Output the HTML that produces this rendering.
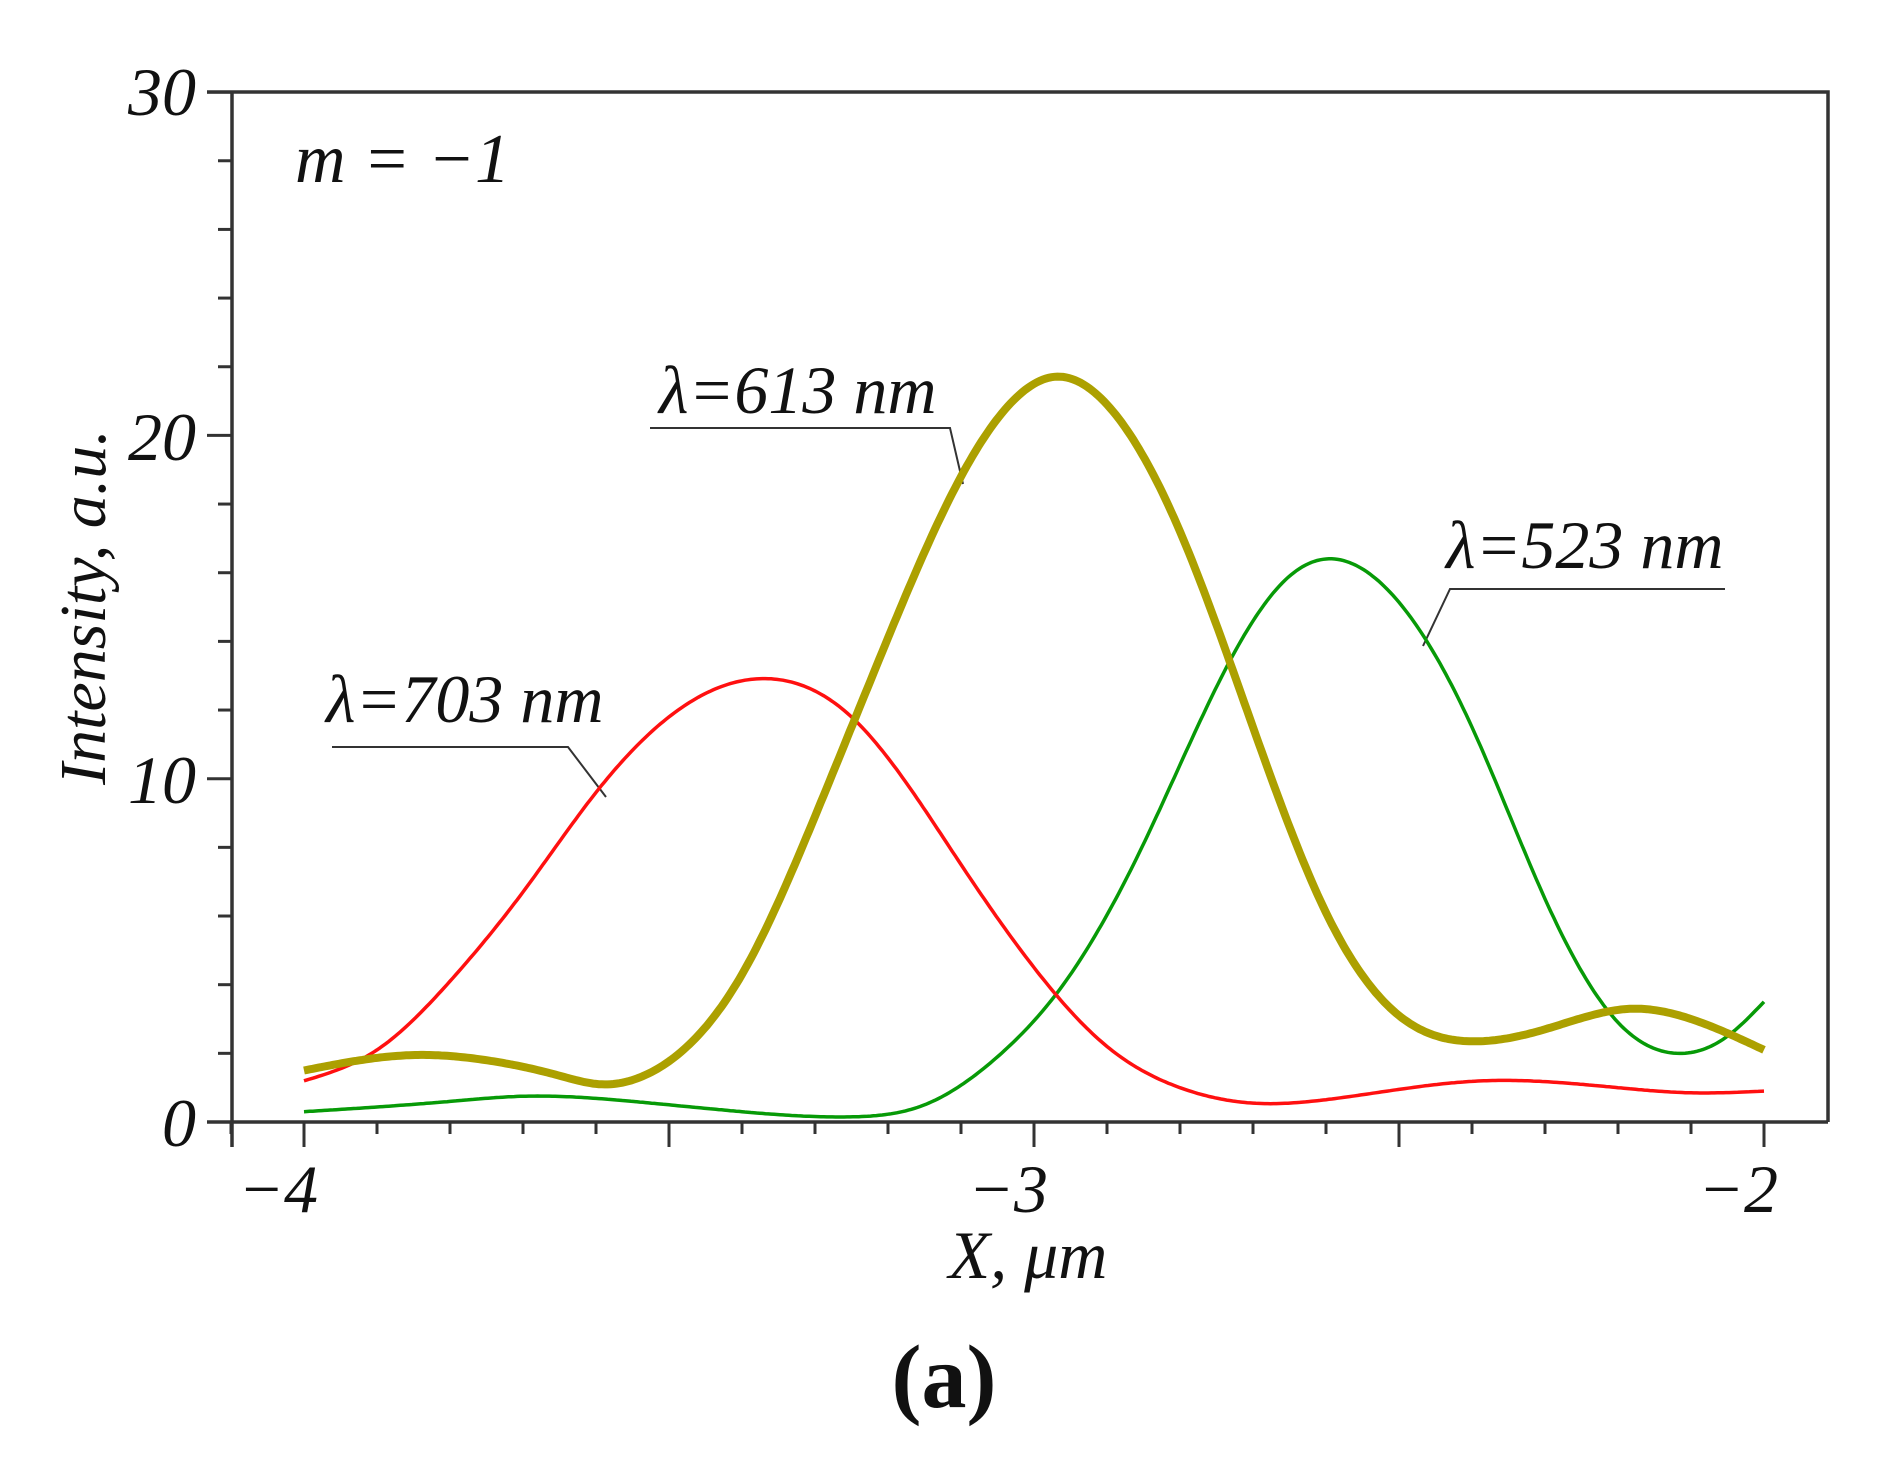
<!DOCTYPE html>
<html><head><meta charset="utf-8"><style>
html,body{margin:0;padding:0;background:#fff;}
svg{display:block;}
text{font-family:"Liberation Serif",serif;font-style:italic;fill:#111;}
</style></head><body>
<svg id="s" width="1888" height="1473" viewBox="0 0 1888 1473" xmlns="http://www.w3.org/2000/svg">
<g id="ticks" stroke="#333" stroke-width="3"></g>
<path d="M207 92 H1828 V1122 M232 92 V1147 M207 1122 H1828" fill="none" stroke="#333" stroke-width="3.5"/>
<g font-size="68">
<text x="196" y="115" text-anchor="end">30</text>
<text x="196" y="460" text-anchor="end">20</text>
<text x="196" y="803" text-anchor="end">10</text>
<text x="196" y="1146" text-anchor="end">0</text>
<text x="318" y="1212" text-anchor="end">−4</text>
<text x="1048" y="1212" text-anchor="end">−3</text>
<text x="1778" y="1212" text-anchor="end">−2</text>
<text x="1028" y="1278" text-anchor="middle">X, μm</text>
<text transform="translate(105,607) rotate(-90)" text-anchor="middle" font-size="66">Intensity, a.u.</text>
<text x="295" y="182" font-size="70">m = −1</text>
<text x="659" y="413">λ=613 nm</text>
<text x="1446" y="568">λ=523 nm</text>
<text x="326" y="722">λ=703 nm</text>
</g>
<text x="944" y="1407" font-size="90" text-anchor="middle" style="font-style:normal;font-weight:bold">(a)</text>
<g fill="none" stroke="#333" stroke-width="2">
<path d="M650 428 H950 L963 484"/>
<path d="M1725 589 H1450 L1423 646"/>
<path d="M332 747 H568 L606 797"/>
</g>
<path id="g" fill="none" stroke="#079a07" stroke-width="3.5"/>
<path id="r" fill="none" stroke="#ff1010" stroke-width="3.5"/>
<path id="y" fill="none" stroke="#aca000" stroke-width="8"/>
</svg>
<script>
function X(x){return 304+(x+4)*730;}
function Y(v){return 1122-v*34.33;}
var t=document.getElementById('ticks'),h='';
for(var i=0;i<=30;i+=2){var y=Y(i);var L=(i%10==0)?25:14;h+='<line x1="'+(232-L)+'" y1="'+y+'" x2="232" y2="'+y+'"/>';}
for(var k=0;k<=21;k++){var x=X(-4.1+k*0.1);var mj=(k>=1)&&((k-1)%5==0);h+='<line x1="'+x+'" y1="1122" x2="'+x+'" y2="'+(mj?1147:1134)+'"/>';}
t.innerHTML=h;
function nspline(p){
var n=p.length,xs=p.map(a=>a[0]),ys=p.map(a=>a[1]);
var hh=[],al=[],l=[1],mu=[0],z=[0],c=new Array(n).fill(0),b=[],d=[];
for(var i=0;i<n-1;i++)hh[i]=xs[i+1]-xs[i];
for(var i=1;i<n-1;i++)al[i]=3/hh[i]*(ys[i+1]-ys[i])-3/hh[i-1]*(ys[i]-ys[i-1]);
for(var i=1;i<n-1;i++){l[i]=2*(xs[i+1]-xs[i-1])-hh[i-1]*mu[i-1];mu[i]=hh[i]/l[i];z[i]=(al[i]-hh[i-1]*z[i-1])/l[i];}
z[n-1]=0;c[n-1]=0;
for(var j=n-2;j>=0;j--){c[j]=z[j]-mu[j]*c[j+1];b[j]=(ys[j+1]-ys[j])/hh[j]-hh[j]*(c[j+1]+2*c[j])/3;d[j]=(c[j+1]-c[j])/(3*hh[j]);}
var s='';
for(var x=xs[0];x<=xs[n-1]+1e-9;x+=0.004){var j=0;while(j<n-2&&x>xs[j+1])j++;var dx=x-xs[j];var v=ys[j]+b[j]*dx+c[j]*dx*dx+d[j]*dx*dx*dx;
s+=(s?' L':'M')+X(x).toFixed(1)+' '+Y(v).toFixed(1);}
return s;}
var Yd=[[-4,1.5],[-3.85,1.95],[-3.75,1.8],[-3.65,1.35],[-3.595,1.1],[-3.52,1.5],[-3.4,4.3],[-3.3,8.9],[-3.2,14.1],[-3.1,18.8],[-3.0,21.5],[-2.975,21.7],[-2.9,20.9],[-2.8,17.2],[-2.7,11.5],[-2.6,6.1],[-2.5,3.1],[-2.4,2.35],[-2.3,2.7],[-2.18,3.3],[-2.1,3.0],[-2.0,2.1]];
var R=[[-4,1.2],[-3.9,2.1],[-3.8,4.1],[-3.7,6.7],[-3.6,9.6],[-3.5,11.8],[-3.355,12.9],[-3.25,11.8],[-3.1,7.5],[-3.0,4.5],[-2.9,2.2],[-2.8,1.0],[-2.7,0.55],[-2.6,0.65],[-2.5,0.95],[-2.385,1.2],[-2.2,1.0],[-2.1,0.85],[-2.0,0.9]];
var G=[[-4,0.3],[-3.8,0.6],[-3.7,0.75],[-3.55,0.6],[-3.4,0.3],[-3.25,0.15],[-3.15,0.5],[-3.05,1.9],[-2.96,4.0],[-2.85,8.1],[-2.73,13.5],[-2.65,15.9],[-2.6,16.4],[-2.52,15.6],[-2.4,11.5],[-2.3,6.5],[-2.2,2.9],[-2.12,2.0],[-2.05,2.5],[-2.0,3.5]];
document.getElementById('y').setAttribute('d',nspline(Yd));
document.getElementById('r').setAttribute('d',nspline(R));
document.getElementById('g').setAttribute('d',nspline(G));
</script>
</body></html>
